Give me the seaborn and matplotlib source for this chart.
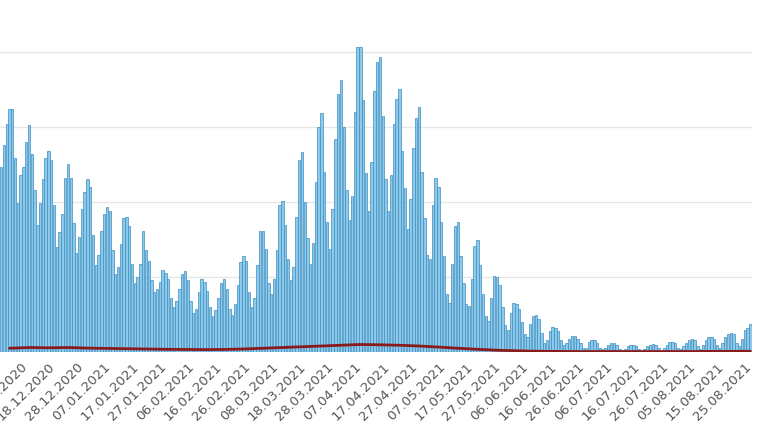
import numpy as np
import pandas as pd
import matplotlib
matplotlib.use("Agg")
import matplotlib.pyplot as plt
import seaborn as sns

# Daily values (one list per week), 01.12.2020 onwards
cases = [
    12.3, 13.8, 15.2, 16.2, 16.2, 12.9, 9.9,
    11.8, 12.3, 14.0, 15.1, 13.2, 10.8, 8.5,
    9.9, 11.5, 12.9, 13.4, 12.8, 9.8, 7.0,
    8.0, 9.2, 11.6, 12.5, 11.6, 8.6, 6.6,
    7.7, 9.5, 10.7, 11.5, 11.0, 7.8, 5.8,
    6.5, 8.1, 9.2, 9.7, 9.4, 6.8, 5.2,
    5.7, 7.2, 8.9, 9.0, 8.4, 5.9, 4.6,
    5.0, 5.9, 8.1, 6.8, 6.1, 4.8, 4.0,
    4.2, 4.7, 5.5, 5.3, 4.9, 3.6, 3.0,
    3.4, 4.2, 5.2, 5.4, 4.8, 3.4, 2.6,
    2.9, 4.0, 4.9, 4.7, 4.1, 3.0, 2.4,
    2.8, 3.6, 4.6, 4.9, 4.2, 2.9, 2.5,
    3.2, 4.5, 6.0, 6.4, 6.1, 4.0, 3.0,
    3.6, 5.8, 8.1, 8.1, 6.9, 4.6, 3.9,
    4.9, 6.8, 9.8, 10.1, 8.5, 6.2, 4.8,
    5.7, 9.0, 12.8, 13.3, 10.0, 7.6, 5.9,
    7.3, 11.3, 15.0, 15.9, 12.0, 8.7, 6.9,
    9.5, 14.2, 17.2, 18.1, 15.0, 10.8, 8.8,
    10.4, 16.0, 20.3, 20.3, 16.8, 11.9, 9.4,
    12.7, 17.4, 19.3, 19.7, 15.7, 11.5, 9.4,
    11.8, 15.2, 16.9, 17.5, 13.4, 10.9, 8.2,
    10.2, 13.6, 15.6, 16.3, 12.0, 8.9, 6.5,
    6.2, 9.8, 11.6, 11.0, 8.7, 6.4, 3.9,
    3.3, 5.9, 8.4, 8.7, 6.4, 4.6, 3.2,
    3.1, 4.9, 7.1, 7.5, 5.8, 3.9, 2.4,
    2.1, 3.6, 5.1, 5.0, 4.5, 3.0, 1.8,
    1.5, 2.6, 3.3, 3.2, 2.9, 2.0, 1.2,
    1.0, 1.9, 2.4, 2.5, 2.2, 1.3, 0.6,
    0.8, 1.4, 1.7, 1.6, 1.4, 0.8, 0.5,
    0.6, 0.9, 1.1, 1.1, 0.9, 0.6, 0.3,
    0.3, 0.7, 0.8, 0.8, 0.6, 0.3, 0.2,
    0.3, 0.5, 0.6, 0.6, 0.5, 0.2, 0.1,
    0.2, 0.4, 0.5, 0.5, 0.4, 0.2, 0.1,
    0.2, 0.4, 0.5, 0.55, 0.5, 0.3, 0.1,
    0.3, 0.5, 0.7, 0.7, 0.6, 0.3, 0.2,
    0.4, 0.6, 0.8, 0.85, 0.8, 0.4, 0.2,
    0.5, 0.8, 1.0, 1.0, 0.9, 0.5, 0.3,
    0.6, 1.0, 1.2, 1.25, 1.2, 0.6, 0.4,
    0.9, 1.5, 1.6, 1.9,
]

# red line, one value per week (mid-week)
deaths = [0.25, 0.3, 0.28, 0.3, 0.26, 0.24, 0.22, 0.2, 0.18, 0.17, 0.16, 0.17,
          0.2, 0.25, 0.3, 0.35, 0.4, 0.45, 0.5, 0.48, 0.45, 0.4, 0.33, 0.25,
          0.18, 0.12, 0.08, 0.05, 0.04, 0.03, 0.03, 0.03, 0.03, 0.03, 0.03,
          0.03, 0.04, 0.04, 0.05]

start = pd.Timestamp("2020-12-01")
tick_dates = pd.date_range("2020-12-08", "2021-08-25", freq="10D")
tick_labels = [d.strftime("%d.%m.%Y") for d in tick_dates]

days = np.arange(len(cases))
df = pd.DataFrame({"day": days, "cases": cases})
dl = pd.DataFrame({"day": np.arange(len(deaths)) * 7 + 3, "deaths": deaths})

sns.set_style("white")
fig = plt.figure(figsize=(7.7, 4.32), dpi=100)
ax = fig.add_axes([0, 80 / 432, 752 / 770, 352 / 432])

sns.barplot(data=df, x="day", y="cases", native_scale=True, ax=ax,
            color="#8fc9ea", saturation=1, width=0.85)
for p in ax.patches:
    p.set_edgecolor("#3a8fc4")
    p.set_linewidth(0.5)

sns.lineplot(data=dl, x="day", y="deaths", ax=ax, color="#8b1a1a", lw=2)

for g in [5, 10, 15, 20]:
    ax.axhline(g, color="#e6e6e6", lw=1, zorder=0)

ax.set_xlim(-0.4, 269.6)
ax.set_ylim(0, 352 / 15)
ax.set_yticks([])
ax.set_xticks([(d - start).days for d in tick_dates])
ax.set_xticklabels(tick_labels, rotation=45, ha="right", rotation_mode="anchor",
                   color="#555555", fontsize=9.5)
ax.tick_params(axis="x", length=0, pad=6)
ax.set_xlabel("")
ax.set_ylabel("")
for s in ax.spines.values():
    s.set_visible(False)

fig.savefig("out.png", dpi=100)
